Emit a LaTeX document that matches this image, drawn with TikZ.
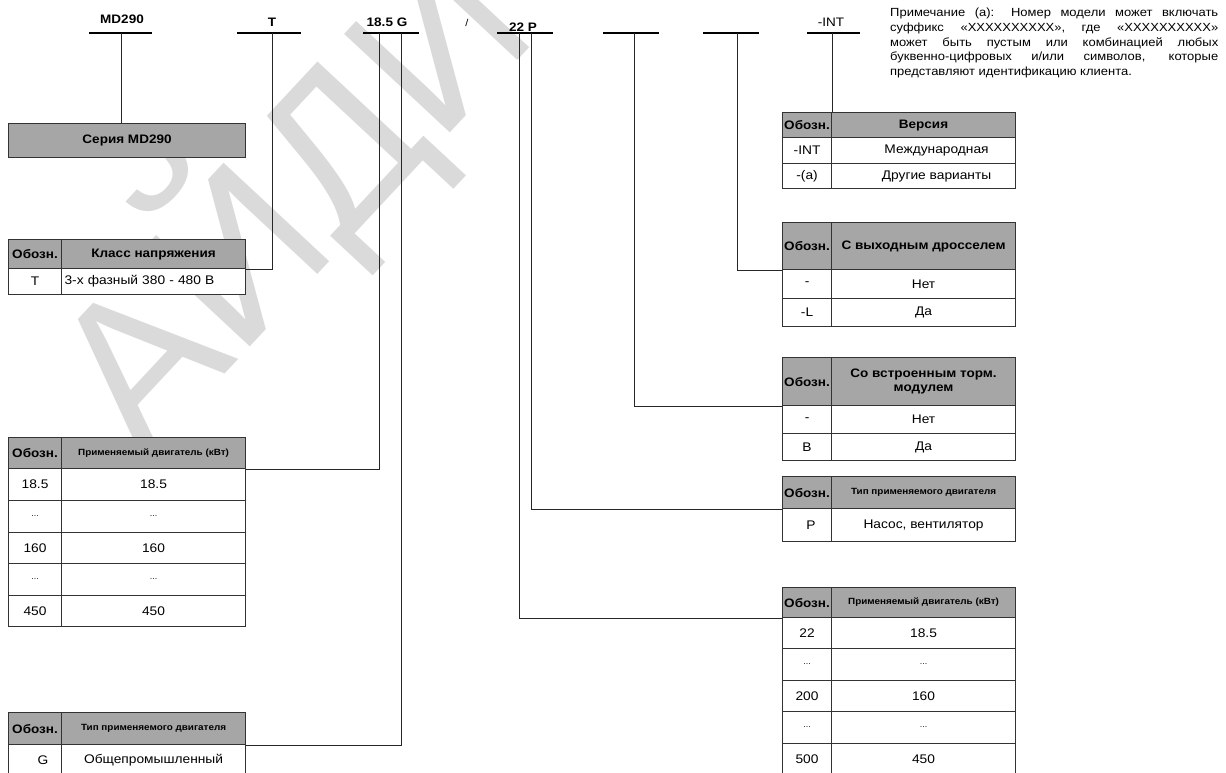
\documentclass[tikz,border=0pt]{standalone}
\usepackage{fontspec}
\setmainfont{Liberation Sans}[FakeStretch=1.1]
\newfontfamily\wmfont{Liberation Sans}
\definecolor{headgray}{RGB}{166,166,166}
\definecolor{wmgray}{RGB}{218,218,218}
\newcommand\tcell[7]{\node[#6, minimum width={(#4-(#2))*1pt}, minimum height={(#5-(#3))*1pt}, anchor=north west] (#1) at (#2,#3) {#7};}
\newcommand\sdots{{\fontsize{8}{10}\selectfont ...}}
\tikzset{
 cellbase/.style={draw=black!80, line width=1.1pt, inner sep=0pt, align=center},
 hd/.style={cellbase, fill=headgray, font=\bfseries\fontsize{12.3}{13.5}\selectfont},
 hds/.style={cellbase, fill=headgray, font=\bfseries\fontsize{9}{11}\selectfont},
 bd/.style={cellbase, fill=white, font=\fontsize{12.5}{14}\selectfont},
 conn/.style={draw=black!85, line width=1pt},
 uline/.style={draw=black, line width=1.2pt},
 code/.style={font=\bfseries\fontsize{12.3}{14}\selectfont, inner sep=0pt},
 coderm/.style={font=\fontsize{12.3}{14}\selectfont, inner sep=0pt},
 wm/.style={text=wmgray, font=\wmfont\fontsize{210}{210}\selectfont, inner sep=0pt},
}
\begin{document}
\begin{tikzpicture}[x=1pt,y=-1pt]
\useasboundingbox (0,0) rectangle (1226,772);
\fill[white] (0,0) rectangle (1226,772);
\begin{scope}
\clip (0,0) rectangle (1226,772);
\node[wm, rotate=47, anchor=base west] (wmark) at (143,462) {АЙДИ};
\end{scope}

% code segments
\node[code] (tMD) at (122,19) {MD290};
\node[code] (tT) at (272,22) {T};
\node[code] (tG) at (387,22) {18.5 G};
\node[coderm, font=\fontsize{10}{12}\selectfont] (tSl) at (467,23) {/};
\node[code] (tP) at (523,27) {22 P};
\node[coderm] (tINT) at (831,22) {-INT};

\coordinate (uMDa) at (89,33);  \coordinate (uMDb) at (152,33);
\coordinate (uTa) at (237,33);  \coordinate (uTb) at (301,33);
\coordinate (uGa) at (363,33);  \coordinate (uGb) at (419,33);
\coordinate (uPa) at (497,33);  \coordinate (uPb) at (553,33);
\coordinate (u5a) at (603,33);  \coordinate (u5b) at (659,33);
\coordinate (u6a) at (703,33);  \coordinate (u6b) at (759,33);
\coordinate (uIa) at (807,33);  \coordinate (uIb) at (860,33);
\foreach \a/\b in {uMDa/uMDb,uTa/uTb,uGa/uGb,uPa/uPb,u5a/u5b,u6a/u6b,uIa/uIb}
  \draw[uline] (\a) -- (\b);

\coordinate (cMD) at (121,33);
\coordinate (cT) at (272,33);
\coordinate (cG1) at (379,33);
\coordinate (cG2) at (401,33);
\coordinate (cP1) at (519,33);
\coordinate (cP2) at (531,33);
\coordinate (c5) at (634,33);
\coordinate (c6) at (737,33);
\coordinate (cINT) at (832,33);

% note
\node[anchor=north west, text width=328pt, align=justify, inner sep=0pt,
      font=\fontsize{11.8}{14.7}\selectfont] (note) at (890,8)
 {Примечание (а): Номер модели может включать\linebreak
  суффикс «XXXXXXXXXX», где «XXXXXXXXXX»\linebreak
  может быть пустым или комбинацией любых\linebreak
  буквенно-цифровых и/или символов, которые\linebreak
  представляют идентификацию клиента.};

% left tables
\tcell{serie}{8}{123}{245}{157}{hd}{Серия MD290}

\tcell{kH1}{8}{239}{61}{268}{hd}{Обозн.}
\tcell{kH2}{61}{239}{245}{268}{hd}{Класс напряжения}
\tcell{kR1}{8}{268}{61}{294}{bd}{T}
\tcell{kR2}{61}{268}{245}{294}{bd, inner xsep=3pt, text width=178pt, align=left}{3-х фазный 380 - 480 В}

\tcell{mH1}{8}{437}{61}{468}{hd}{Обозн.}
\tcell{mH2}{61}{437}{245}{468}{hds}{Применяемый двигатель (кВт)}
\tcell{mR1a}{8}{468}{61}{500}{bd}{18.5}
\tcell{mR1b}{61}{468}{245}{500}{bd}{18.5}
\tcell{mR2a}{8}{500}{61}{532}{bd}{\sdots}
\tcell{mR2b}{61}{500}{245}{532}{bd}{\sdots}
\tcell{mR3a}{8}{532}{61}{563}{bd}{160}
\tcell{mR3b}{61}{532}{245}{563}{bd}{160}
\tcell{mR4a}{8}{563}{61}{595}{bd}{\sdots}
\tcell{mR4b}{61}{563}{245}{595}{bd}{\sdots}
\tcell{mR5a}{8}{595}{61}{626}{bd}{450}
\tcell{mR5b}{61}{595}{245}{626}{bd}{450}

\tcell{gH1}{8}{712}{61}{744}{hd}{Обозн.}
\tcell{gH2}{61}{712}{245}{744}{hds}{Тип применяемого двигателя}
\tcell{gR1}{8}{744}{61}{776}{bd}{\hspace*{16pt}G}
\tcell{gR2}{61}{744}{245}{776}{bd}{Общепромышленный}

% right tables
\tcell{vH1}{782}{112}{831}{137}{hd}{Обозн.}
\tcell{vH2}{831}{112}{1015}{137}{hd}{Версия}
\tcell{vR1a}{782}{137}{831}{163}{bd}{-INT}
\tcell{vR1b}{831}{137}{1015}{163}{bd}{\hspace*{26pt}Международная}
\tcell{vR2a}{782}{163}{831}{188}{bd}{-(a)}
\tcell{vR2b}{831}{163}{1015}{188}{bd}{\hspace*{26pt}Другие варианты}

\tcell{cH1}{782}{222}{831}{269}{hd}{Обозн.}
\tcell{cH2}{831}{222}{1015}{269}{hd}{С выходным дросселем}
\tcell{cR1a}{782}{269}{831}{298}{bd}{-}
\tcell{cR1b}{831}{269}{1015}{298}{bd}{Нет}
\tcell{cR2a}{782}{298}{831}{326}{bd}{-L}
\tcell{cR2b}{831}{298}{1015}{326}{bd}{Да}

\tcell{bH1}{782}{357}{831}{405}{hd}{Обозн.}
\tcell{bH2}{831}{357}{1015}{405}{hd}{Со встроенным торм.\\модулем}
\tcell{bR1a}{782}{405}{831}{433}{bd}{-}
\tcell{bR1b}{831}{405}{1015}{433}{bd}{Нет}
\tcell{bR2a}{782}{433}{831}{460}{bd}{B}
\tcell{bR2b}{831}{433}{1015}{460}{bd}{Да}

\tcell{pH1}{782}{476}{831}{508}{hd}{Обозн.}
\tcell{pH2}{831}{476}{1015}{508}{hds}{Тип применяемого двигателя}
\tcell{pR1}{782}{508}{831}{541}{bd}{\hspace*{8pt}P}
\tcell{pR2}{831}{508}{1015}{541}{bd}{Насос, вентилятор}

\tcell{rH1}{782}{587}{831}{617}{hd}{Обозн.}
\tcell{rH2}{831}{587}{1015}{617}{hds}{Применяемый двигатель (кВт)}
\tcell{rR1a}{782}{617}{831}{648}{bd}{22}
\tcell{rR1b}{831}{617}{1015}{648}{bd}{18.5}
\tcell{rR2a}{782}{648}{831}{680}{bd}{\sdots}
\tcell{rR2b}{831}{648}{1015}{680}{bd}{\sdots}
\tcell{rR3a}{782}{680}{831}{711}{bd}{200}
\tcell{rR3b}{831}{680}{1015}{711}{bd}{160}
\tcell{rR4a}{782}{711}{831}{743}{bd}{\sdots}
\tcell{rR4b}{831}{711}{1015}{743}{bd}{\sdots}
\tcell{rR5a}{782}{743}{831}{774}{bd}{500}
\tcell{rR5b}{831}{743}{1015}{774}{bd}{450}

% connectors
\draw[conn] (cMD) -- (cMD |- serie.north);
\draw[conn] (cT) |- (kH2.south east);
\draw[conn] (cG1) |- (mH2.south east);
\draw[conn] (cG2) |- (gH2.south east);
\draw[conn] (cP1) |- (rH1.south west);
\draw[conn] (cP2) |- (pH1.south west);
\draw[conn] (c5) |- (bH1.south west);
\draw[conn] (c6) |- (cH1.south west);
\draw[conn] (cINT) -- (cINT |- vH1.north);
\end{tikzpicture}
\end{document}
